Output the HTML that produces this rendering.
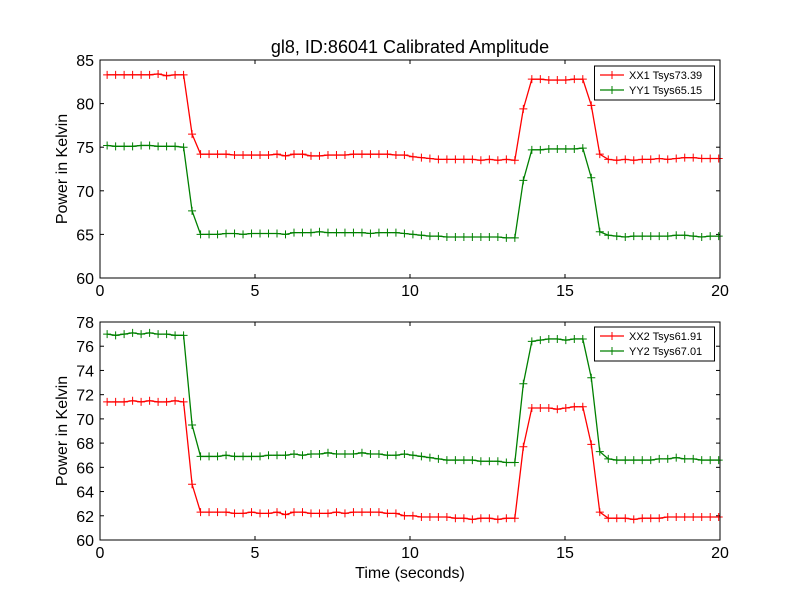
<!DOCTYPE html>
<html><head><meta charset="utf-8"><style>
body{margin:0;background:#fff;}
svg{display:block;font-family:"Liberation Sans","DejaVu Sans",sans-serif;}
</style></head><body>
<svg id="chart" width="800" height="600" viewBox="0 0 800 600">
<rect width="800" height="600" fill="#fff"/>
<text x="410" y="53" text-anchor="middle" font-size="18">gl8, ID:86041 Calibrated Amplitude</text>
</svg>
<script>
const xx1 = [83.3,83.3,83.3,83.3,83.3,83.3,83.4,83.2,83.3,83.3,76.5,74.2,74.2,74.2,74.2,74.1,74.1,74.1,74.1,74.1,74.2,74.0,74.2,74.2,74.0,74.0,74.1,74.1,74.1,74.2,74.2,74.2,74.2,74.2,74.1,74.1,73.9,73.8,73.7,73.6,73.6,73.6,73.6,73.6,73.5,73.6,73.5,73.6,73.5,79.4,82.8,82.8,82.7,82.7,82.7,82.8,82.8,79.8,74.2,73.6,73.5,73.6,73.5,73.6,73.6,73.7,73.6,73.7,73.8,73.8,73.7,73.7,73.7];
const yy1 = [75.2,75.1,75.1,75.1,75.2,75.2,75.1,75.1,75.1,75.0,67.7,65.0,65.0,65.0,65.1,65.1,65.0,65.1,65.1,65.1,65.1,65.0,65.2,65.2,65.2,65.3,65.2,65.2,65.2,65.2,65.2,65.1,65.2,65.2,65.2,65.1,65.0,64.9,64.8,64.8,64.7,64.7,64.7,64.7,64.7,64.7,64.7,64.6,64.6,71.2,74.7,74.7,74.8,74.8,74.8,74.8,74.9,71.5,65.3,64.9,64.8,64.7,64.8,64.8,64.8,64.8,64.8,64.9,64.9,64.8,64.7,64.8,64.8];
const xx2 = [71.4,71.4,71.4,71.5,71.4,71.5,71.4,71.4,71.5,71.4,64.6,62.3,62.3,62.3,62.3,62.2,62.2,62.3,62.2,62.2,62.3,62.1,62.3,62.3,62.2,62.2,62.2,62.3,62.2,62.3,62.3,62.3,62.3,62.2,62.2,62.0,62.0,61.9,61.9,61.9,61.9,61.8,61.8,61.7,61.8,61.8,61.7,61.8,61.8,67.7,70.9,70.9,70.9,70.8,70.9,71.0,71.0,67.9,62.3,61.8,61.8,61.8,61.7,61.8,61.8,61.8,61.9,61.9,61.9,61.9,61.9,61.9,61.9];
const yy2 = [77.0,76.9,77.0,77.1,77.0,77.1,77.0,77.0,76.9,76.9,69.5,66.9,66.9,66.9,67.0,66.9,66.9,66.9,66.9,67.0,67.0,67.0,67.1,67.0,67.1,67.1,67.2,67.1,67.1,67.1,67.2,67.1,67.1,67.0,67.0,67.1,67.0,66.9,66.8,66.7,66.6,66.6,66.6,66.6,66.5,66.5,66.5,66.4,66.4,72.9,76.4,76.5,76.6,76.6,76.5,76.6,76.6,73.4,67.3,66.7,66.6,66.6,66.6,66.6,66.6,66.7,66.7,66.8,66.7,66.7,66.6,66.6,66.6];
const xTicks = [0,5,10,15,20];
const yTicks1 = [60,65,70,75,80,85];
const yTicks2 = [60,62,64,66,68,70,72,74,76,78];
const t0 = 0.23, dt = 0.274;
const legend1 = ["XX1 Tsys73.39","YY1 Tsys65.15"];
const legend2 = ["XX2 Tsys61.91","YY2 Tsys67.01"];

const NS="http://www.w3.org/2000/svg";
const svg=document.getElementById('chart');
function mk(tag,attrs,parent){const e=document.createElementNS(NS,tag);for(const k in attrs)e.setAttribute(k,attrs[k]);(parent||svg).appendChild(e);return e;}

function panel(top,bottom,ymin,ymax,yTicks,series,colors,labels,legendY,pname){
  const L=100,R=720;
  const g=mk('g',{});
  
  
  const xs=v=>L+(v-0)/(20-0)*(R-L);
  const ys=v=>bottom-(v-ymin)/(ymax-ymin)*(bottom-top);
  // ticks
  xTicks.forEach(v=>{
    const x=xs(v);
    mk('line',{x1:x,x2:x,y1:bottom,y2:bottom-4,stroke:'#000'},g);
    mk('line',{x1:x,x2:x,y1:top,y2:top+4,stroke:'#000'},g);
    const t=mk('text',{x:x,y:bottom+18,'text-anchor':'middle','font-size':16},g);
    t.textContent=v;
    
    
  });
  yTicks.forEach(v=>{
    const y=ys(v);
    mk('line',{x1:L,x2:L+4,y1:y,y2:y,stroke:'#000'},g);
    mk('line',{x1:R,x2:R-4,y1:y,y2:y,stroke:'#000'},g);
    const t=mk('text',{x:L-6,y:y+6,'text-anchor':'end','font-size':16},g);
    t.textContent=v;
    
    
  });
  series.forEach((s,si)=>{
    const pts=s.map((v,i)=>[xs(t0+i*dt),ys(v)]);
    const pl=mk('polyline',{points:pts.map(p=>p.join(',')).join(' '),fill:'none',stroke:colors[si],'stroke-width':1.3},g);
    
    
    let d='';
    pts.forEach(p=>{d+=`M${p[0]-4},${p[1]}h8M${p[0]},${p[1]-4}v8`;});
    const m=mk('path',{d:d,stroke:colors[si],'stroke-width':1},g);
    
    
  });
  const frame=mk('rect',{x:L,y:top,width:R-L,height:bottom-top,fill:'none',stroke:'#000','stroke-width':1},g);
  
  
  // legend
  const lg=mk('g',{},g);
  
  
  mk('rect',{x:594.5,y:legendY,width:120,height:34,fill:'#fff',stroke:'#000'},lg);
  labels.forEach((lab,i)=>{
    const y=legendY+9+i*15;
    mk('line',{x1:600,x2:624,y1:y,y2:y,stroke:colors[i],'stroke-width':1.3},lg);
    mk('path',{d:`M608,${y}h8M612,${y-4}v8`,stroke:colors[i]},lg);
    const t=mk('text',{x:629,y:y+4,'font-size':11},lg);
    t.textContent=lab;
    
    
  });
  const yl=mk('text',{x:0,y:0,'text-anchor':'middle','font-size':16,transform:`translate(67,${(top+bottom)/2}) rotate(-90)`},g);
  yl.textContent='Power in Kelvin';
  
  
}
panel(60,278,60,85,yTicks1,[xx1,yy1],['#ff0000','#008000'],legend1,66,'top-panel');
panel(322,540,60,78,yTicks2,[xx2,yy2],['#ff0000','#008000'],legend2,327,'bottom-panel');
const xl=mk('text',{x:410,y:578,'text-anchor':'middle','font-size':16});
xl.textContent='Time (seconds)';


</script>
</body></html>
